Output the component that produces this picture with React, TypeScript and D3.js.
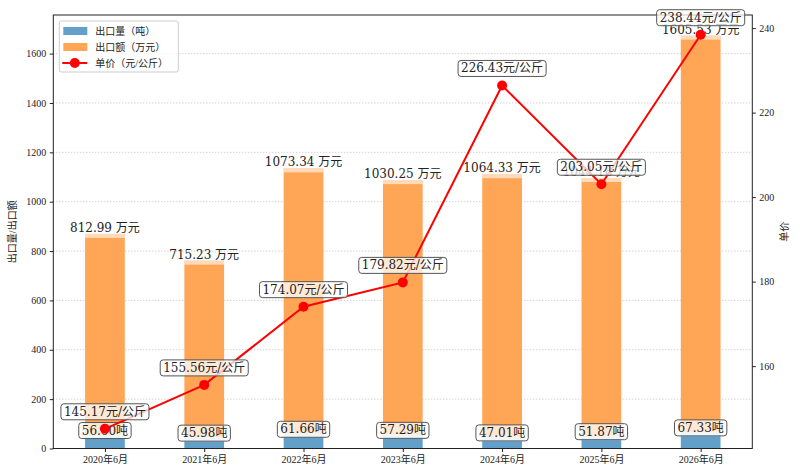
import { useRef, useEffect } from 'react';
import * as d3 from 'd3';

const categories = ['2020年6月', '2021年6月', '2022年6月', '2023年6月', '2024年6月', '2025年6月', '2026年6月'];
const quantity = [56.60, 45.98, 61.66, 57.29, 47.01, 51.87, 67.33];
const amount = [812.99, 715.23, 1073.34, 1030.25, 1064.33, 1044.18, 1605.53];
const price = [145.17, 155.56, 174.07, 179.82, 226.43, 203.05, 238.44];
const leftTicks = [0, 200, 400, 600, 800, 1000, 1200, 1400, 1600];
const rightTicks = [160, 180, 200, 220, 240];

const WIDTH = 800;
const HEIGHT = 475;
const TICK_FONT = '"Liberation Serif", "Noto Sans CJK SC", serif';
const LABEL_FONT = '"DejaVu Serif", "Noto Sans CJK SC", serif';
const BLUE = '#62a0ca';
const ORANGE = '#ffa556';

export default function App() {
    const ref = useRef<SVGSVGElement | null>(null);

    useEffect(() => {
        const left = 53.3, right = 752.3, top = 15, bottom = 448.5;
        const svg = d3.select(ref.current);
        svg.selectAll('*').remove();

        const totals = quantity.map((q, i) => q + amount[i]);
        const x = d3.scaleLinear().domain([-0.52, 6.52]).range([left, right]);
        const yL = d3.scaleLinear().domain([0, (d3.max(totals) as number) * 1.05]).range([bottom, top]);
        const pMin = d3.min(price) as number, pMax = d3.max(price) as number;
        const pPad = (pMax - pMin) * 0.05;
        const yR = d3.scaleLinear().domain([pMin - pPad, pMax + pPad]).range([bottom, top]);
        const bw = x(0.2) - x(-0.2);

        // grid
        svg.append('g')
            .selectAll('line')
            .data(leftTicks.slice(1))
            .join('line')
            .attr('x1', left).attr('x2', right)
            .attr('y1', d => yL(d)).attr('y2', d => yL(d))
            .attr('stroke', '#b0b0b0').attr('stroke-width', 0.8)
            .attr('stroke-dasharray', '1,2');

        // bars
        const bars = svg.append('g');
        categories.forEach((_, i) => {
            const bx = x(i) - bw / 2;
            bars.append('rect')
                .attr('x', bx).attr('width', bw)
                .attr('y', yL(quantity[i])).attr('height', yL(0) - yL(quantity[i]))
                .attr('fill', BLUE);
            bars.append('rect')
                .attr('x', bx).attr('width', bw)
                .attr('y', yL(totals[i])).attr('height', yL(quantity[i]) - yL(totals[i]))
                .attr('fill', ORANGE);
            // light strip at top of each bar
            bars.append('rect')
                .attr('x', bx).attr('width', bw)
                .attr('y', yL(quantity[i])).attr('height', 4.5)
                .attr('fill', '#fff').attr('opacity', 0.6);
            bars.append('rect')
                .attr('x', bx).attr('width', bw)
                .attr('y', yL(totals[i])).attr('height', 4)
                .attr('fill', '#fff').attr('opacity', 0.6);
        });

        // amount labels
        svg.append('g')
            .selectAll('text')
            .data(amount)
            .join('text')
            .attr('x', (_, i) => x(i))
            .attr('y', (_, i) => yL(totals[i]) - 2)
            .attr('text-anchor', 'middle')
            .attr('font-family', LABEL_FONT)
            .attr('font-size', 12)
            .attr('fill', '#222')
            .text(d => `${d.toFixed(2)} 万元`);

        const boxedLabel = (g: d3.Selection<SVGGElement, unknown, null, undefined>, cx: number, cy: number, txt: string) => {
            const lg = g.append('g');
            const rect = lg.append('rect');
            const t = lg.append('text')
                .attr('x', cx).attr('y', cy)
                .attr('text-anchor', 'middle')
                .attr('dominant-baseline', 'central')
                .attr('font-family', LABEL_FONT)
                .attr('font-size', 12)
                .attr('fill', '#222')
                .text(txt);
            const bb = (t.node() as SVGTextElement).getBBox();
            rect.attr('x', bb.x - 3).attr('y', cy - 8)
                .attr('width', bb.width + 6).attr('height', 16)
                .attr('rx', 3)
                .attr('fill', '#fff').attr('fill-opacity', 0.75)
                .attr('stroke', '#555').attr('stroke-width', 1);
        };

        // quantity labels
        const qg = svg.append('g');
        quantity.forEach((q, i) => boxedLabel(qg, x(i), yL(q) - 4, `${q.toFixed(2)}吨`));

        // price line
        const line = d3.line<number>().x((_, i) => x(i)).y(d => yR(d));
        svg.append('path')
            .datum(price)
            .attr('d', line)
            .attr('fill', 'none')
            .attr('stroke', 'red')
            .attr('stroke-width', 2);
        svg.append('g')
            .selectAll('circle')
            .data(price)
            .join('circle')
            .attr('cx', (_, i) => x(i))
            .attr('cy', d => yR(d))
            .attr('r', 5)
            .attr('fill', 'red');

        // frame
        svg.append('rect')
            .attr('x', left).attr('y', top)
            .attr('width', right - left).attr('height', bottom - top)
            .attr('fill', 'none').attr('stroke', '#222').attr('stroke-width', 1);

        // price labels
        const pg = svg.append('g');
        price.forEach((p, i) => boxedLabel(pg, x(i), yR(p) - 17, `${p.toFixed(2)}元/公斤`));

        // axes
        const styleAxis = (g: d3.Selection<SVGGElement, unknown, null, undefined>) => {
            g.select('.domain').remove();
            g.selectAll('text').attr('font-family', TICK_FONT).attr('font-size', 10).attr('fill', '#222');
            g.selectAll('line').attr('stroke', '#222');
        };
        svg.append('g')
            .attr('transform', `translate(${left},0)`)
            .call(d3.axisLeft(yL).tickValues(leftTicks).tickSize(3.5).tickPadding(3.5).tickFormat(d3.format('d')))
            .call(styleAxis);
        svg.append('g')
            .attr('transform', `translate(${right},0)`)
            .call(d3.axisRight(yR).tickValues(rightTicks).tickSize(3.5).tickPadding(3.5).tickFormat(d3.format('d')))
            .call(styleAxis);
        svg.append('g')
            .attr('transform', `translate(0,${bottom})`)
            .call(d3.axisBottom(x).tickValues(d3.range(categories.length)).tickSize(3.5).tickPadding(3.5)
                .tickFormat(d => categories[d as number]))
            .call(styleAxis);

        // axis titles
        svg.append('text')
            .attr('transform', `translate(16,${(top + bottom) / 2}) rotate(-90)`)
            .attr('text-anchor', 'middle')
            .attr('font-family', TICK_FONT).attr('font-size', 10).attr('fill', '#222')
            .text('出口量/出口额');
        svg.append('text')
            .attr('transform', `translate(788,${(top + bottom) / 2}) rotate(-90)`)
            .attr('text-anchor', 'middle')
            .attr('font-family', TICK_FONT).attr('font-size', 10).attr('fill', '#222')
            .text('单价');

        // legend
        const lg = svg.append('g').attr('transform', `translate(${left + 6},${top + 6})`);
        lg.append('rect')
            .attr('width', 119).attr('height', 51).attr('rx', 2)
            .attr('fill', '#fff').attr('fill-opacity', 0.8)
            .attr('stroke', '#ccc').attr('stroke-width', 1);
        const items = [
            { label: '出口量（吨）', type: 'bar', color: BLUE },
            { label: '出口额（万元）', type: 'bar', color: ORANGE },
            { label: '单价（元/公斤）', type: 'line', color: 'red' },
        ];
        items.forEach((it, i) => {
            const cy = 10 + i * 16;
            if (it.type === 'bar') {
                lg.append('rect').attr('x', 4).attr('y', cy - 4).attr('width', 24).attr('height', 8).attr('fill', it.color);
            } else {
                lg.append('line').attr('x1', 3).attr('x2', 28).attr('y1', cy).attr('y2', cy)
                    .attr('stroke', it.color).attr('stroke-width', 2);
                lg.append('circle').attr('cx', 15.5).attr('cy', cy).attr('r', 5).attr('fill', it.color);
            }
            lg.append('text')
                .attr('x', 36).attr('y', cy)
                .attr('dominant-baseline', 'central')
                .attr('font-family', TICK_FONT).attr('font-size', 10).attr('fill', '#222')
                .text(it.label);
        });
    }, []);

    return (
        <svg
            ref={ref}
            width={WIDTH}
            height={HEIGHT}
            style={{ position: 'absolute', left: 0, top: 0, background: '#fff' }}
        />
    );
}
